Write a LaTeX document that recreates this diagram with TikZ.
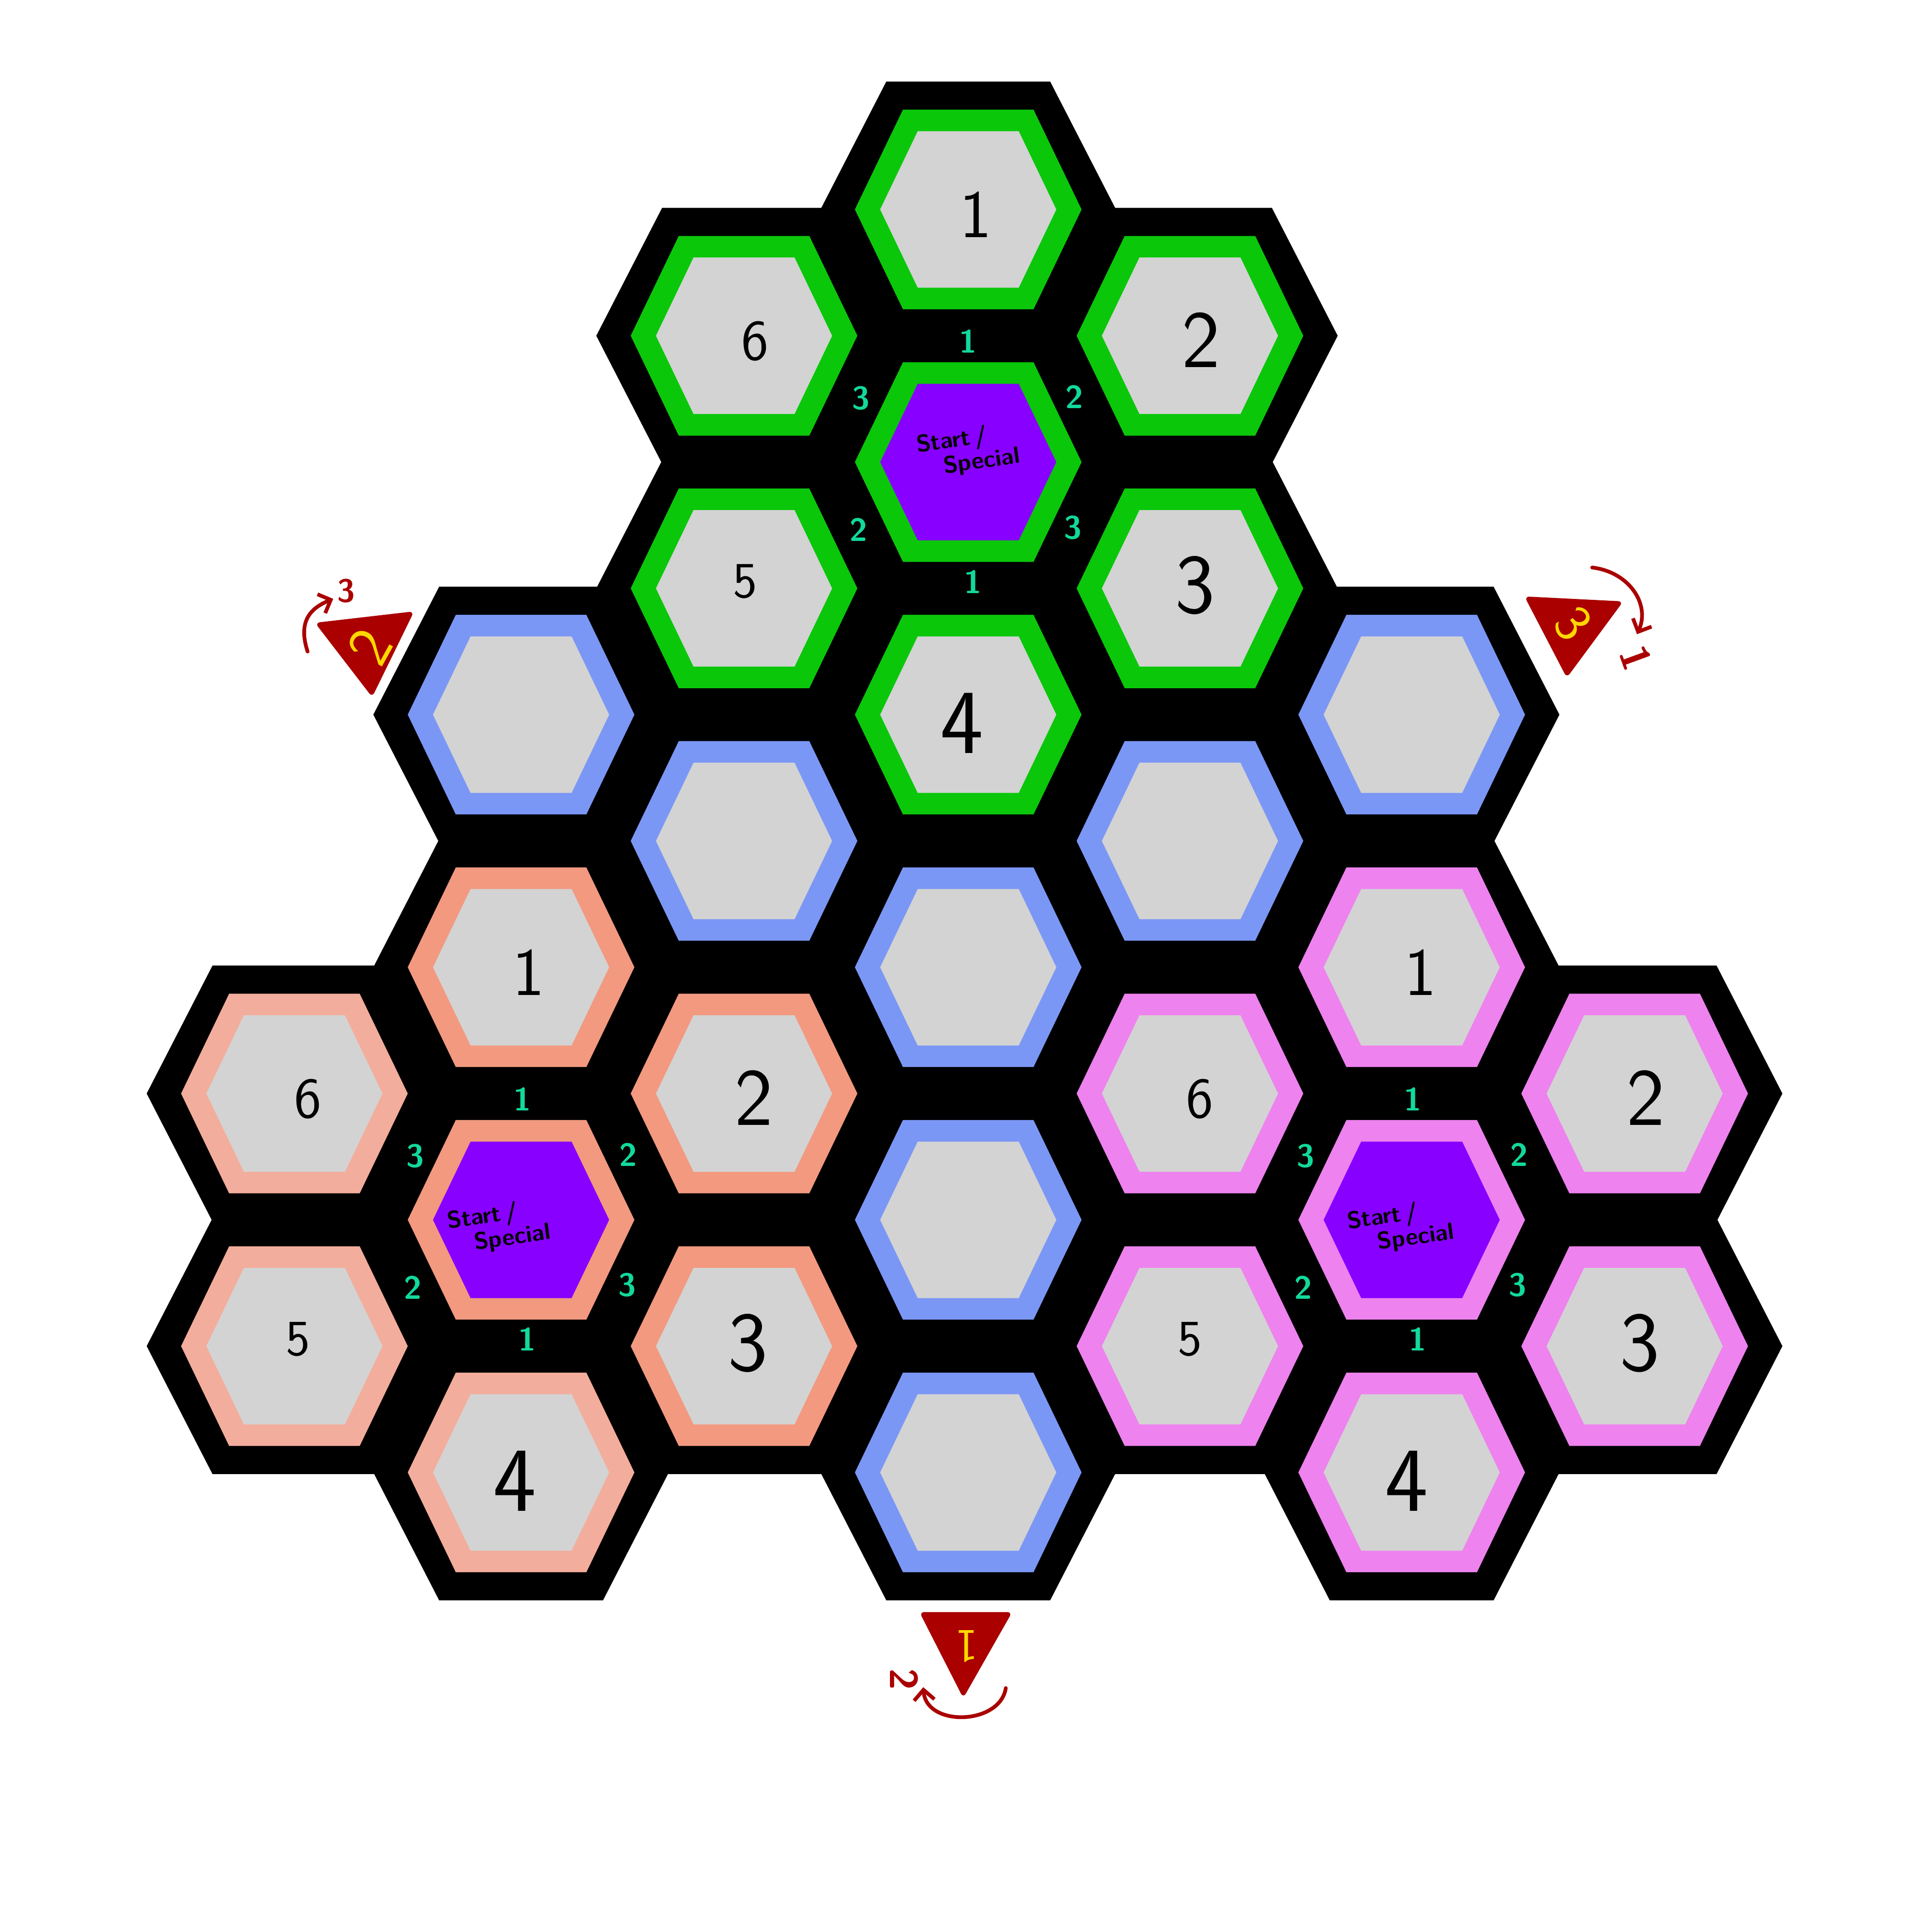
\documentclass[tikz,border=0pt]{standalone}
\usepackage{fontspec}
\usetikzlibrary{arrows.meta}
\definecolor{hgreen}{HTML}{0AC70A}
\definecolor{hblue}{HTML}{7B97F5}
\definecolor{hsalmon}{HTML}{F29980}
\definecolor{hsalmonl}{HTML}{F3AD9C}
\definecolor{hpink}{HTML}{EE82EE}
\definecolor{hgray}{HTML}{D3D3D3}
\definecolor{hpurple}{HTML}{8800FF}
\definecolor{hteal}{HTML}{12D99B}
\definecolor{hred}{HTML}{AA0000}
\definecolor{hyellow}{HTML}{FFD700}
\newcommand\myfs[1]{\fontsize{#1}{#1}\selectfont}
\newcommand\blackcell[2]{\fill[black,draw=black,line width=1.2pt] (#1-119,#2) -- (#1-66,#2-103) -- (#1+66,#2-103) -- (#1+119,#2) -- (#1+66,#2+103) -- (#1-66,#2+103) -- cycle;}
\newcommand\hexring[4]{%
 \fill[#3] (#1-92,#2) -- (#1-53,#2-81) -- (#1+53,#2-81) -- (#1+92,#2) -- (#1+53,#2+81) -- (#1-53,#2+81) -- cycle;
 \fill[#4] (#1-71.5,#2) -- (#1-41,#2-63.5) -- (#1+41,#2-63.5) -- (#1+71.5,#2) -- (#1+41,#2+63.5) -- (#1-41,#2+63.5) -- cycle;}
\newcommand\startmarks[3]{%
 \node[tl] (#1t) at (#2,#3-98) {1};
 \node[tl] (#1b) at (#2+4,#3+97) {1};
 \node[tl] (#1ul) at (#2-87,#3-52) {3};
 \node[tl] (#1ur) at (#2+86,#3-53) {2};
 \node[tl] (#1ll) at (#2-89,#3+55) {2};
 \node[tl] (#1lr) at (#2+85,#3+53) {3};}
\begin{document}
\begin{tikzpicture}[x=0.02551cm, y=-0.02551cm,
  num/.style={font=\sffamily, inner sep=0pt, text=black},
  tl/.style={font=\sffamily\bfseries\myfs{19}, text=hteal, inner sep=0pt},
  stxt/.style={font=\sffamily\bfseries\fontsize{14}{13}\selectfont, align=left, inner sep=0pt, rotate=8, text=black},
  gl/.style={text=hyellow, inner sep=0pt, font=\sffamily},
  ann/.style={text=hred, inner sep=0pt, font=\sffamily\bfseries},
  arr/.style={draw=hred, line width=2.2pt, line cap=round, line join=round, -{Straight Barb[length=6pt,width=12pt]}},
  tri/.style={fill=hred, draw=hred, line width=1pt, line join=round, rounded corners=2pt}]
\fill[white] (0,0) rectangle (1568,1568);
\useasboundingbox (0,0) rectangle (1568,1568);
% black backing
\foreach \cx/\cy in {239/887.5,239/1092.5,
  423/580,423/785,423/990,423/1195,
  604/272.5,604/477.5,604/682.5,604/887.5,604/1092.5,
  786/170,786/375,786/580,786/785,786/990,786/1195,
  966/272.5,966/477.5,966/682.5,966/887.5,966/1092.5,
  1146/580,1146/785,1146/990,1146/1195,
  1327/887.5,1327/1092.5}{\blackcell{\cx}{\cy}}
% green cluster
\hexring{786}{170}{hgreen}{hgray}
\hexring{786}{375}{hgreen}{hpurple}
\hexring{786}{580}{hgreen}{hgray}
\hexring{604}{272.5}{hgreen}{hgray}
\hexring{604}{477.5}{hgreen}{hgray}
\hexring{966}{272.5}{hgreen}{hgray}
\hexring{966}{477.5}{hgreen}{hgray}
% blue
\hexring{423}{580}{hblue}{hgray}
\hexring{604}{682.5}{hblue}{hgray}
\hexring{786}{785}{hblue}{hgray}
\hexring{786}{990}{hblue}{hgray}
\hexring{786}{1195}{hblue}{hgray}
\hexring{966}{682.5}{hblue}{hgray}
\hexring{1146}{580}{hblue}{hgray}
% salmon cluster
\hexring{423}{785}{hsalmon}{hgray}
\hexring{423}{990}{hsalmon}{hpurple}
\hexring{604}{887.5}{hsalmon}{hgray}
\hexring{604}{1092.5}{hsalmon}{hgray}
\hexring{239}{887.5}{hsalmonl}{hgray}
\hexring{239}{1092.5}{hsalmonl}{hgray}
\hexring{423}{1195}{hsalmonl}{hgray}
% pink cluster
\hexring{1146}{785}{hpink}{hgray}
\hexring{1146}{990}{hpink}{hpurple}
\hexring{1146}{1195}{hpink}{hgray}
\hexring{966}{887.5}{hpink}{hgray}
\hexring{966}{1092.5}{hpink}{hgray}
\hexring{1327}{887.5}{hpink}{hgray}
\hexring{1327}{1092.5}{hpink}{hgray}
% numbers
\foreach \p/\x/\y in {g/0/0, s/-363/615, p/361/615}{
  \node[num, font=\sffamily\myfs{40}] (\p n1) at (792+\x,174+\y) {1};
  \node[num, font=\sffamily\myfs{34}] (\p n6) at (613+\x,277+\y) {6};
  \node[num, font=\sffamily\myfs{48}] (\p n2) at (975+\x,276+\y) {2};
  \node[num, font=\sffamily\myfs{30}] (\p n5) at (605+\x,472+\y) {5};
  \node[num, font=\sffamily\myfs{50}] (\p n3) at (970+\x,475+\y) {3};
  \node[num, font=\sffamily\myfs{54}] (\p n4) at (781+\x,587+\y) {4};
}
% start / special texts
\node[stxt] (gstart) at (786,366) {Start\,/\\\hspace*{14pt}Special};
\node[stxt] (sstart) at (405,996) {Start\,/\\\hspace*{14pt}Special};
\node[stxt] (pstart) at (1137,996) {Start\,/\\\hspace*{16pt}Special};
% teal edge marks
\startmarks{gm}{786}{375}
\startmarks{sm}{424}{990}
\startmarks{pm}{1147}{990}
% triangles
\fill[tri] (257,506) -- (335,497) -- (302,564.5) -- cycle;
\fill[tri] (1238.7,484.8) -- (1316.4,488.7) -- (1272,548.8) -- cycle;
\fill[tri] (747.5,1309) -- (820.5,1309) -- (782,1376.7) -- cycle;
\node[gl, font=\sffamily\myfs{36}, rotate=61] (tl2) at (300,525) {2};
\node[gl, font=\sffamily\myfs{32}, rotate=-51] (tr3) at (1277,506) {3};
\node[gl, font=\sffamily\myfs{28}, rotate=180] (tb1) at (785,1336) {1};
% rotation arrows
\coordinate (la1) at (249.7,528.8);
\coordinate (la2) at (270.5,486);
\draw[arr] (la1) .. controls (242,505) and (251,494) .. (la2);
\node[ann, font=\sffamily\bfseries\myfs{19}] (l3) at (281,479.5) {3};
\coordinate (ra1) at (1292.5,460.6);
\coordinate (ra2) at (1328.9,514.7);
\draw[arr] (ra1) .. controls (1322,464) and (1340,490) .. (ra2);
\node[ann, font=\sffamily\bfseries\myfs{24}, rotate=-70] (r1) at (1328,534) {1};
\coordinate (ba1) at (816.5,1370);
\coordinate (ba2) at (749.5,1369.3);
\draw[arr] (ba1) .. controls (812,1400) and (752,1402) .. (ba2);
\node[ann, font=\sffamily\bfseries\myfs{23}, rotate=-90] (b2) at (734,1363) {2};
\end{tikzpicture}
\end{document}
